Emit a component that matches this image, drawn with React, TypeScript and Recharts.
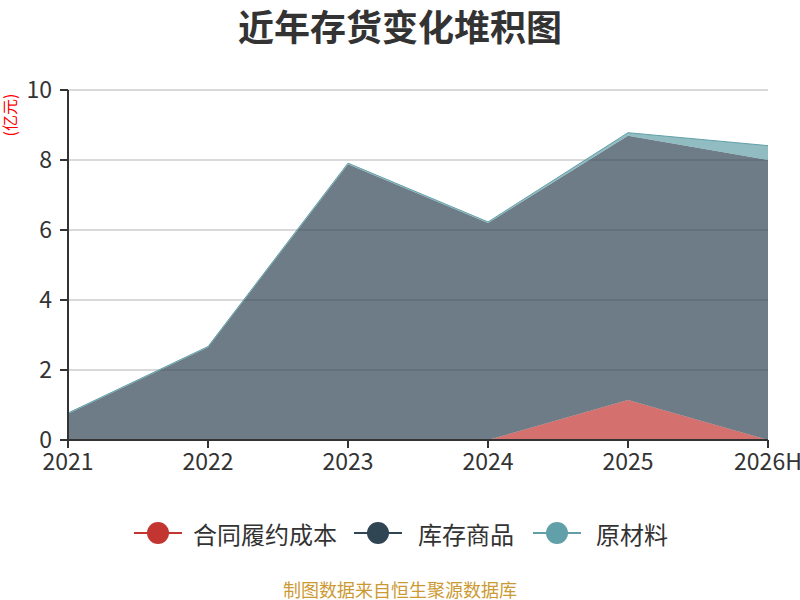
import React from "react";
import { AreaChart, Area, XAxis, YAxis, CartesianGrid } from "recharts";

const categories = ["2021", "2022", "2023", "2024", "2025", "2026H"];
const contractCost = [0, 0, 0, 0, 1.14, 0];
const goods = [0.75, 2.65, 7.88, 6.2, 7.55, 8.0];
const materials = [0.02, 0.02, 0.03, 0.03, 0.09, 0.41];
const yTicks = [0, 2, 4, 6, 8, 10];

const seriesNames = ["合同履约成本", "库存商品", "原材料"];
const seriesColors = ["#c23531", "#2f4554", "#61a0a8"];

const data = categories.map((c, i) => ({
  name: c,
  a: contractCost[i],
  b: goods[i],
  c: materials[i],
}));

const FONT = '"Noto Sans CJK SC", "Noto Sans", sans-serif';

export default function App() {
  const keys = ["a", "b", "c"];
  return (
    <div style={{ position: "absolute", left: 0, top: 0, width: 800, height: 600, background: "#fff", fontFamily: FONT }}>
      <AreaChart
        width={800}
        height={600}
        data={data}
        margin={{ top: 90, right: 32, left: 0, bottom: 130 }}
        style={{ position: "absolute", left: 0, top: 0 }}
      >
        <CartesianGrid horizontal vertical={false} stroke="#cccccc" strokeWidth={1.5} />
        <XAxis
          dataKey="name"
          height={30}
          tickSize={8}
          tickMargin={6}
          axisLine={{ stroke: "#333", strokeWidth: 2 }}
          tickLine={{ stroke: "#333", strokeWidth: 2 }}
          tick={{ fill: "#333", fontSize: 23, fontFamily: FONT }}
          interval={0}
        />
        <YAxis
          width={68}
          domain={[0, 10]}
          ticks={yTicks}
          tickSize={8}
          tickMargin={8}
          axisLine={{ stroke: "#333", strokeWidth: 2 }}
          tickLine={{ stroke: "#333", strokeWidth: 2 }}
          tick={{ fill: "#333", fontSize: 23, fontFamily: FONT }}
          interval={0}
        />
        {keys.map((k, i) => (
          <Area
            key={k}
            type="linear"
            dataKey={k}
            stackId="s"
            stroke={i === 2 ? seriesColors[i] : "none"}
            strokeWidth={1}
            fill={seriesColors[i]}
            fillOpacity={0.7}
            dot={false}
            activeDot={false}
            isAnimationActive={false}
          />
        ))}
      </AreaChart>
      <svg style={{ position: "absolute", left: 0, top: 0 }} width={800} height={600}>
        <text x={400} y={25} textAnchor="middle" dominantBaseline="central" fontSize={36} fontWeight="bold" fill="#333" fontFamily={FONT}>
          近年存货变化堆积图
        </text>
        <text x={9} y={115} transform="rotate(-90 9 115)" textAnchor="middle" dominantBaseline="central" fill="#ff0000" fontSize={16} fontFamily={FONT}>
          (亿元)
        </text>
        {[
          { x: 158, tx: 193 },
          { x: 378, tx: 418 },
          { x: 557, tx: 596 },
        ].map((p, i) => (
          <g key={i}>
            <line x1={p.x - 24} x2={p.x + 24} y1={533} y2={533} stroke={seriesColors[i]} strokeWidth={2} />
            <circle cx={p.x} cy={533} r={11} fill={seriesColors[i]} />
            <text x={p.tx} y={533} dominantBaseline="central" fontSize={24} fill="#333" fontFamily={FONT}>
              {seriesNames[i]}
            </text>
          </g>
        ))}
        <text x={400} y={589} textAnchor="middle" dominantBaseline="central" fontSize={18} fill="#cc9a33" fontFamily={FONT}>
          制图数据来自恒生聚源数据库
        </text>
      </svg>
    </div>
  );
}
